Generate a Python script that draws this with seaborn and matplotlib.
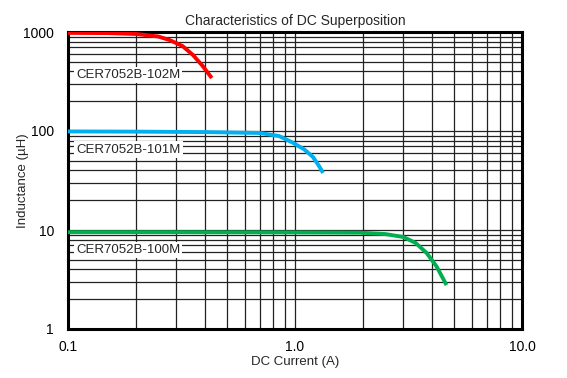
import matplotlib
matplotlib.use("Agg")
import matplotlib.pyplot as plt
import seaborn as sns
import pandas as pd
import numpy as np
from matplotlib.ticker import NullFormatter, LogLocator

sns.set_theme(style="white")
plt.rcParams['font.family'] = ['Liberation Sans', 'DejaVu Sans']

# Data
x_102 = [0.10, 0.15, 0.20, 0.25, 0.28, 0.32, 0.355, 0.39, 0.43]
y_102 = [980, 975, 955, 900, 830, 720, 586, 460, 343]
x_101 = [0.10, 0.20, 0.40, 0.70, 0.85, 0.98, 1.10, 1.20, 1.27, 1.33]
y_101 = [99, 98.5, 97.5, 95.5, 89, 76, 65, 54.6, 45, 37.7]
x_100 = [0.10, 0.30, 1.00, 1.93, 2.50, 3.00, 3.40, 3.80, 4.20, 4.65]
y_100 = [9.5, 9.5, 9.45, 9.4, 9.1, 8.5, 7.4, 5.86, 4.3, 2.78]
names = ["CER7052B-102M", "CER7052B-101M", "CER7052B-100M"]
colors = ["#ff0000", "#00b0f0", "#00b050"]
label_y = [368, 65, 6.3]

frames = []
for n, xs, ys in zip(names, [x_102, x_101, x_100], [y_102, y_101, y_100]):
    frames.append(pd.DataFrame({"x": xs, "y": ys, "part": n}))
df = pd.concat(frames, ignore_index=True)

fig = plt.figure(figsize=(5.67, 3.78), dpi=100)
ax = fig.add_axes([68/567, 1-329/378, (522-68)/567, (329-32)/378])
ax.set_xscale("log")
ax.set_yscale("log")
ax.set_xlim(0.1, 10)
ax.set_ylim(1, 1000)

ax.xaxis.set_minor_locator(LogLocator(base=10, subs=np.arange(2, 10)))
ax.yaxis.set_minor_locator(LogLocator(base=10, subs=np.arange(2, 10)))
ax.xaxis.set_minor_formatter(NullFormatter())
ax.yaxis.set_minor_formatter(NullFormatter())
ax.grid(True, which="both", color="#222222", linewidth=0.9)
ax.set_axisbelow(True)

for spine in ax.spines.values():
    spine.set_visible(True)
    spine.set_color("black")
    spine.set_linewidth(2.2)

sns.lineplot(data=df, x="x", y="y", hue="part", palette=dict(zip(names, colors)),
             linewidth=2.8, legend=False, ax=ax, sort=False, estimator=None)
for l in ax.lines:
    l.set_solid_capstyle("butt")
    l.set_zorder(5)

for n, ly in zip(names, label_y):
    ax.text(0.1085, ly, n, fontsize=9.5, va="center", ha="left", zorder=6,
            bbox=dict(facecolor="white", edgecolor="none", pad=1.5))

ax.set_xticks([0.1, 1, 10])
ax.set_xticklabels(["0.1", "1.0", "10.0"])
ax.set_yticks([1, 10, 100, 1000])
ax.set_yticklabels(["1", "10", "100", "1000"])
ax.tick_params(axis="both", which="both", length=0, labelsize=10, colors="black")
ax.tick_params(axis="x", pad=8)
ax.tick_params(axis="y", pad=10)

ax.set_xlabel("DC Current (A)", fontsize=9.5, labelpad=1)
ax.set_ylabel("Inductance (\u00b5H)", fontsize=9.5, labelpad=-4)
ax.set_title("Characteristics of DC Superposition", fontsize=10, pad=5)

fig.savefig("out.png", dpi=100)
